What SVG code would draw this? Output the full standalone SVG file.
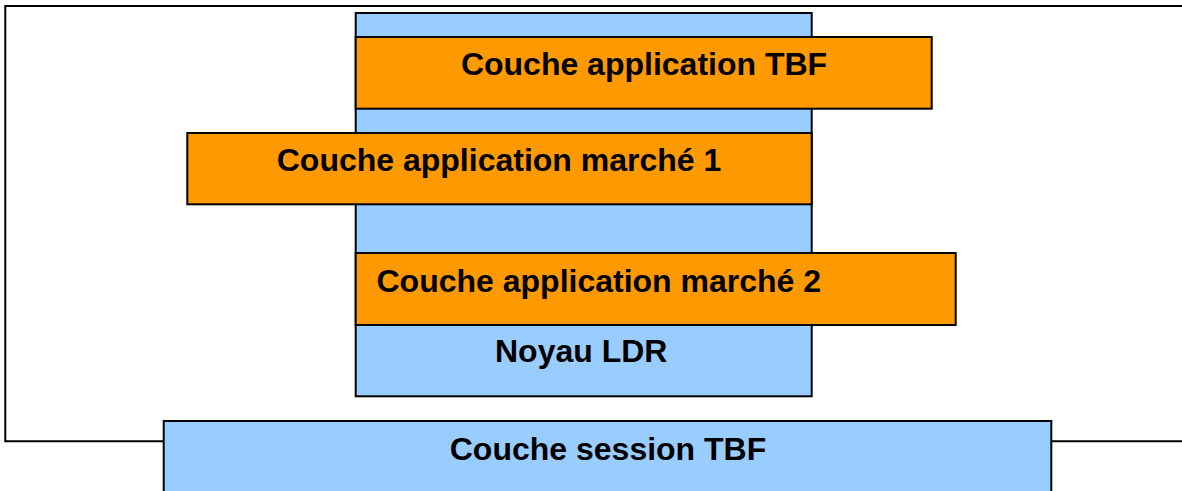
<svg xmlns="http://www.w3.org/2000/svg" width="1182" height="491" viewBox="0 0 1182 491">
<style>
.frame{fill:none;stroke:#000;stroke-width:2}
.blue{fill:#99CCFF;stroke:#000;stroke-width:2}
.orange{fill:#FF9900;stroke:#000;stroke-width:2}
.lbl{font-family:"Liberation Sans",Arial,sans-serif;font-weight:bold;font-size:32px;fill:#000}
</style>
<rect x="0" y="0" width="1182" height="491" fill="#fff"/>
<g id="frame">
<polyline class="frame" points="1190,6 5.3,6 5.3,441.3 1190,441.3"/>
</g>
<g id="noyau">
<rect class="blue" x="355.7" y="13" width="456" height="383.3"/>
<text class="lbl" x="495" y="362">Noyau LDR</text>
</g>
<g id="app-tbf">
<rect class="orange" x="355.7" y="37" width="576" height="71.7"/>
<text class="lbl" x="644" y="75" text-anchor="middle">Couche application TBF</text>
</g>
<g id="app-marche1">
<rect class="orange" x="187.3" y="133" width="624.4" height="71.3"/>
<text class="lbl" x="499" y="171" text-anchor="middle">Couche application marché 1</text>
</g>
<g id="app-marche2">
<rect class="orange" x="355.7" y="253" width="600" height="72"/>
<text class="lbl" x="376.5" y="292">Couche application marché 2</text>
</g>
<g id="session">
<rect class="blue" x="163.7" y="421" width="887.6" height="80"/>
<text class="lbl" x="608" y="459.5" text-anchor="middle">Couche session TBF</text>
</g>
<g id="connectors"></g>
</svg>
